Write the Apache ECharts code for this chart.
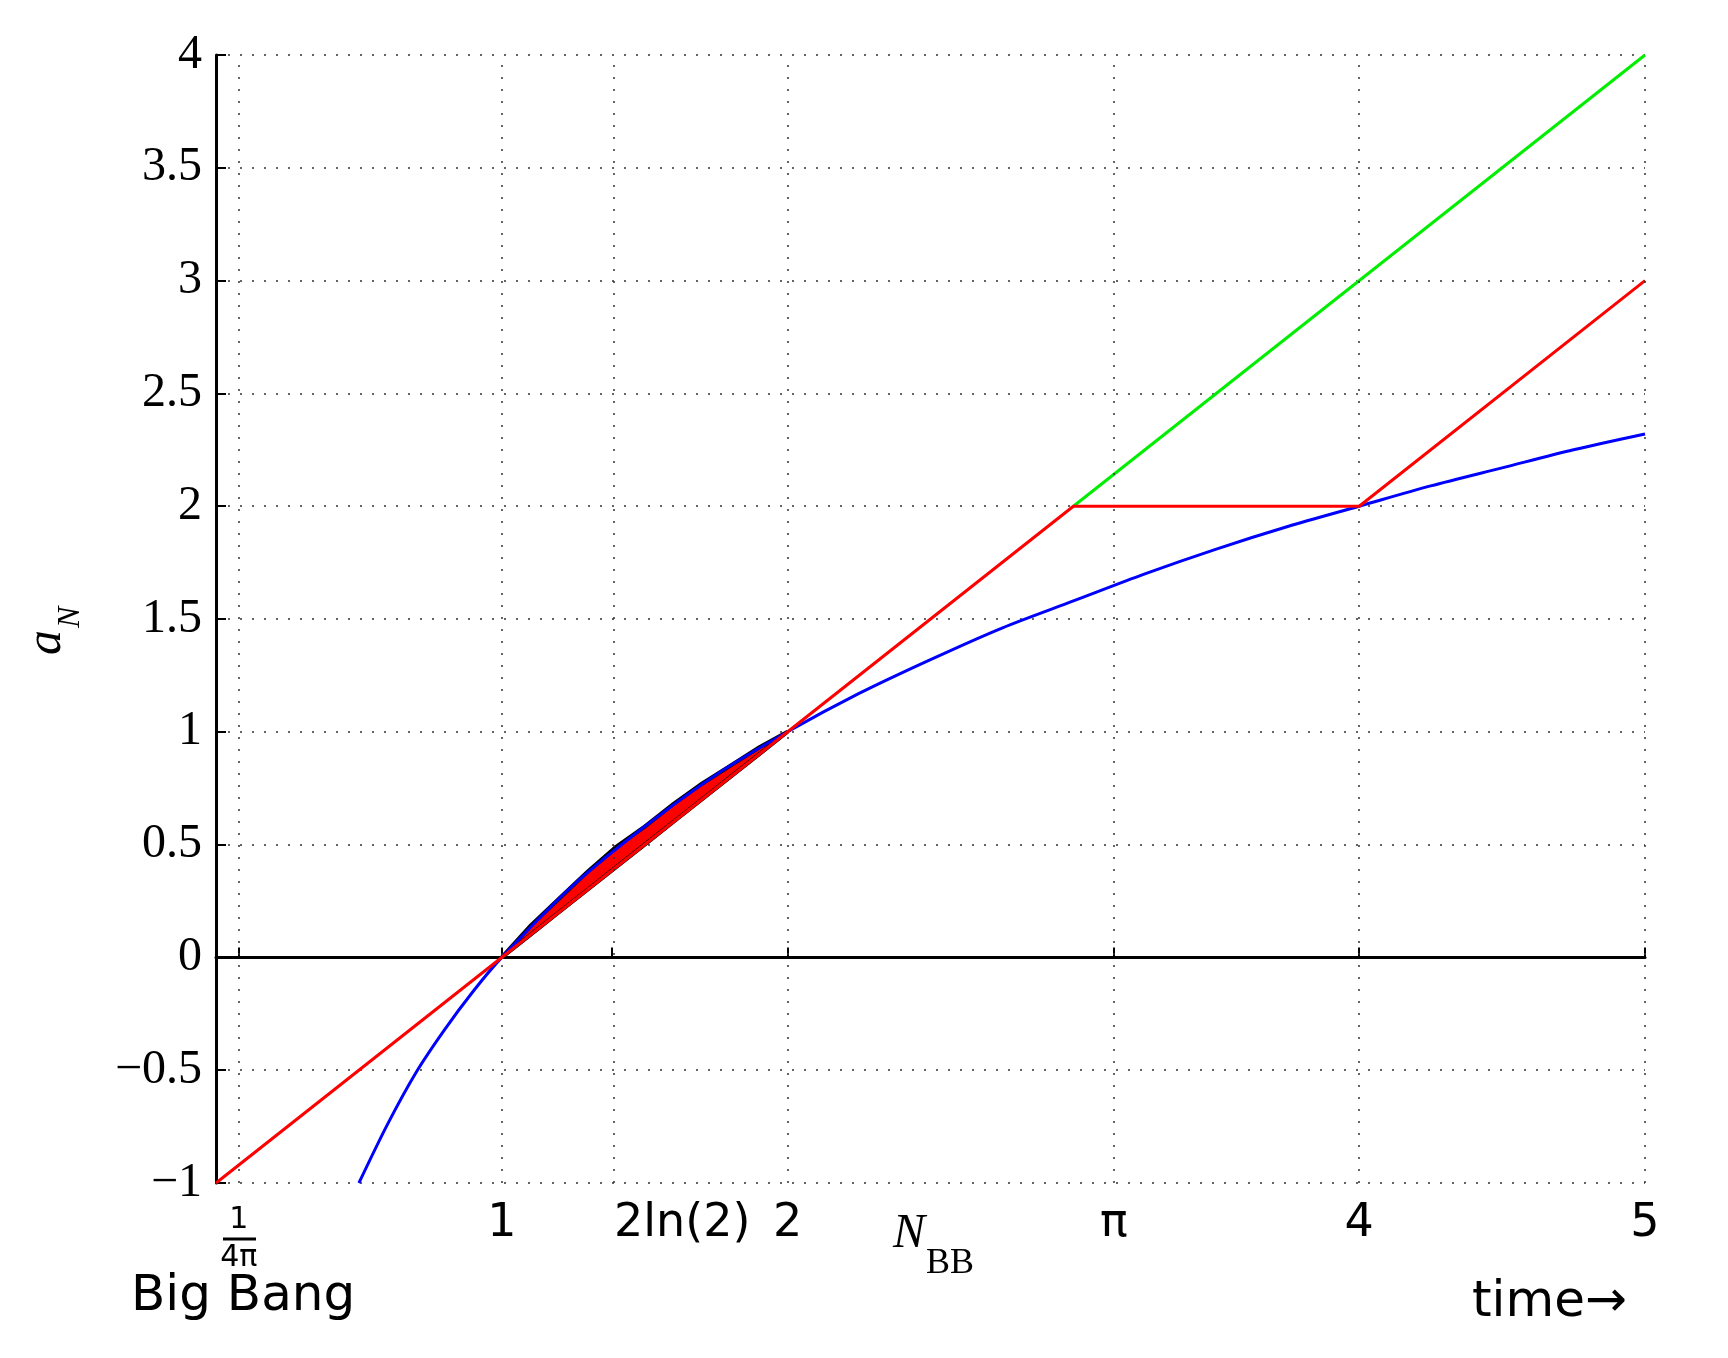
<!DOCTYPE html>
<html><head><meta charset="utf-8">
<script src="https://cdn.jsdelivr.net/npm/echarts@6/dist/echarts.min.js"></script>
<style>html,body{margin:0;background:#fff}#c{width:1728px;height:1358px}</style>
</head><body><div id="c"></div>
<script>
// tick positions on the time axis
var xTicks = [0.0796, 1, 1.3863, 2, 3.1416, 4, 5];
var xTickLabels = ['{n|1}\n{d|4π}', '1', '{l|2ln(2)}', '2', 'π', '4', '5'];
// blue curve
var blueX = [0.5, 0.6, 0.7, 0.8, 0.9, 1, 1.25, 1.5, 1.75, 2, 2.25, 2.5, 2.75, 3, 3.25, 3.5, 3.75, 4, 4.25, 4.5, 4.75, 5];
var blueY = [-1, -0.74, -0.51, -0.32, -0.15, 0, 0.32, 0.58, 0.81, 1, 1.17, 1.32, 1.46, 1.58, 1.7, 1.81, 1.91, 2, 2.09, 2.17, 2.25, 2.32];
// red piecewise line
var redX = [0, 3, 4, 5];
var redY = [-1, 2, 2, 3];
// green line
var greenX = [3, 5];
var greenY = [2, 4];
// lens between x = 1 and x = 2
var lensX = [1, 1.1, 1.2, 1.3, 1.4, 1.5, 1.6, 1.7, 1.8, 1.9, 2];
var lensTop = [0, 0.14, 0.26, 0.38, 0.49, 0.58, 0.68, 0.77, 0.85, 0.93, 1];
var lensBottom = [0, 0.1, 0.2, 0.3, 0.4, 0.5, 0.6, 0.7, 0.8, 0.9, 1];

function pairs(xs, ys) { return xs.map(function (x, i) { return [x, ys[i]]; }); }

var chart = echarts.init(document.getElementById('c'));
var poly = pairs(lensX, lensTop).concat(pairs(lensX, lensBottom).reverse());

chart.setOption({
  backgroundColor: '#fff',
  animation: false,
  grid: { left: 216, right: 83, top: 55, bottom: 175 },
  xAxis: {
    type: 'value', min: 0, max: 5,
    axisLine: { lineStyle: { color: '#000', width: 3 } },
    axisTick: { inside: true, length: 10, customValues: xTicks, lineStyle: { color: '#000', width: 2 } },
    splitLine: { show: false },
    axisLabel: {
      customValues: xTicks, margin: 18, color: '#000',
      fontFamily: 'DejaVu Sans', fontSize: 46,
      formatter: function (v) {
        for (var i = 0; i < xTicks.length; i++) if (Math.abs(xTicks[i] - v) < 1e-3) return xTickLabels[i];
        return '';
      },
      rich: {
        n: { fontFamily: 'DejaVu Sans', fontSize: 30, color: '#000', lineHeight: 38 },
        d: { fontFamily: 'DejaVu Sans', fontSize: 30, color: '#000', lineHeight: 38 },
        l: { fontFamily: 'DejaVu Sans', fontSize: 46, color: '#000', padding: [0, 0, 0, 140] }
      }
    }
  },
  yAxis: {
    type: 'value', min: -1, max: 4, interval: 0.5,
    axisLine: { lineStyle: { color: '#000', width: 3 } },
    axisTick: { inside: true, length: 10, lineStyle: { color: '#000', width: 2 } },
    splitLine: { show: true, lineStyle: { color: '#333', type: [2, 10], width: 1.5 } },
    axisLabel: {
      color: '#000', fontFamily: 'Liberation Serif', fontSize: 48, margin: 14,
      formatter: function (v) { return v < 0 ? '\u2212' + (-v) : String(v); }
    }
  },
  graphic: [
    { type: 'line', shape: { x1: 223, y1: 1239, x2: 256, y2: 1239 }, style: { stroke: '#000', lineWidth: 3 } },
    { type: 'text', left: 131, top: 1272, style: { text: 'Big Bang', font: '50px "DejaVu Sans"', fill: '#000' } },
    { type: 'text', left: 1472, top: 1278, style: { text: 'time\u2192', font: '50px "DejaVu Sans"', fill: '#000' } },
    { type: 'text', left: 893, top: 1210, style: { text: 'N', font: 'italic 48px "Liberation Serif"', fill: '#000' } },
    { type: 'text', left: 926, top: 1246, style: { text: 'BB', font: '36px "Liberation Serif"', fill: '#000' } },
    { type: 'text', x: 22, y: 655, rotation: Math.PI / 2, style: { text: 'a', font: 'italic 50px "Liberation Serif"', fill: '#000' } },
    { type: 'text', x: 55, y: 628, rotation: Math.PI / 2, style: { text: 'N', font: 'italic 32px "Liberation Serif"', fill: '#000' } }
  ],
  series: [
    {
      type: 'line', data: [], silent: true,
      markLine: {
        symbol: 'none', silent: true, label: { show: false },
        lineStyle: { color: '#333', type: [2, 10], width: 1.5 },
        data: xTicks.map(function (v) { return { xAxis: v }; })
      }
    },
    {
      type: 'line', data: [[0, 0], [5, 0]], symbol: 'none',
      lineStyle: { color: '#000', width: 2.5 }
    },
    { type: 'line', data: pairs(blueX, blueY), smooth: 0.3, symbol: 'none', lineStyle: { color: '#0000ff', width: 3 } },
    { type: 'line', data: pairs(greenX, greenY), symbol: 'none', lineStyle: { color: '#00ee00', width: 3 } },
    { type: 'line', data: pairs(redX, redY), symbol: 'none', lineStyle: { color: '#ff0000', width: 3 } },
    {
      type: 'custom', renderItem: function (params, api) {
        return {
          type: 'polygon', smooth: 0.2,
          shape: { points: poly.map(function (p) { return api.coord(p); }) },
          style: { fill: '#ff0000', stroke: '#000', lineWidth: 4 }
        };
      },
      data: [[1, 0]]
    }
  ]
});
</script></body></html>
